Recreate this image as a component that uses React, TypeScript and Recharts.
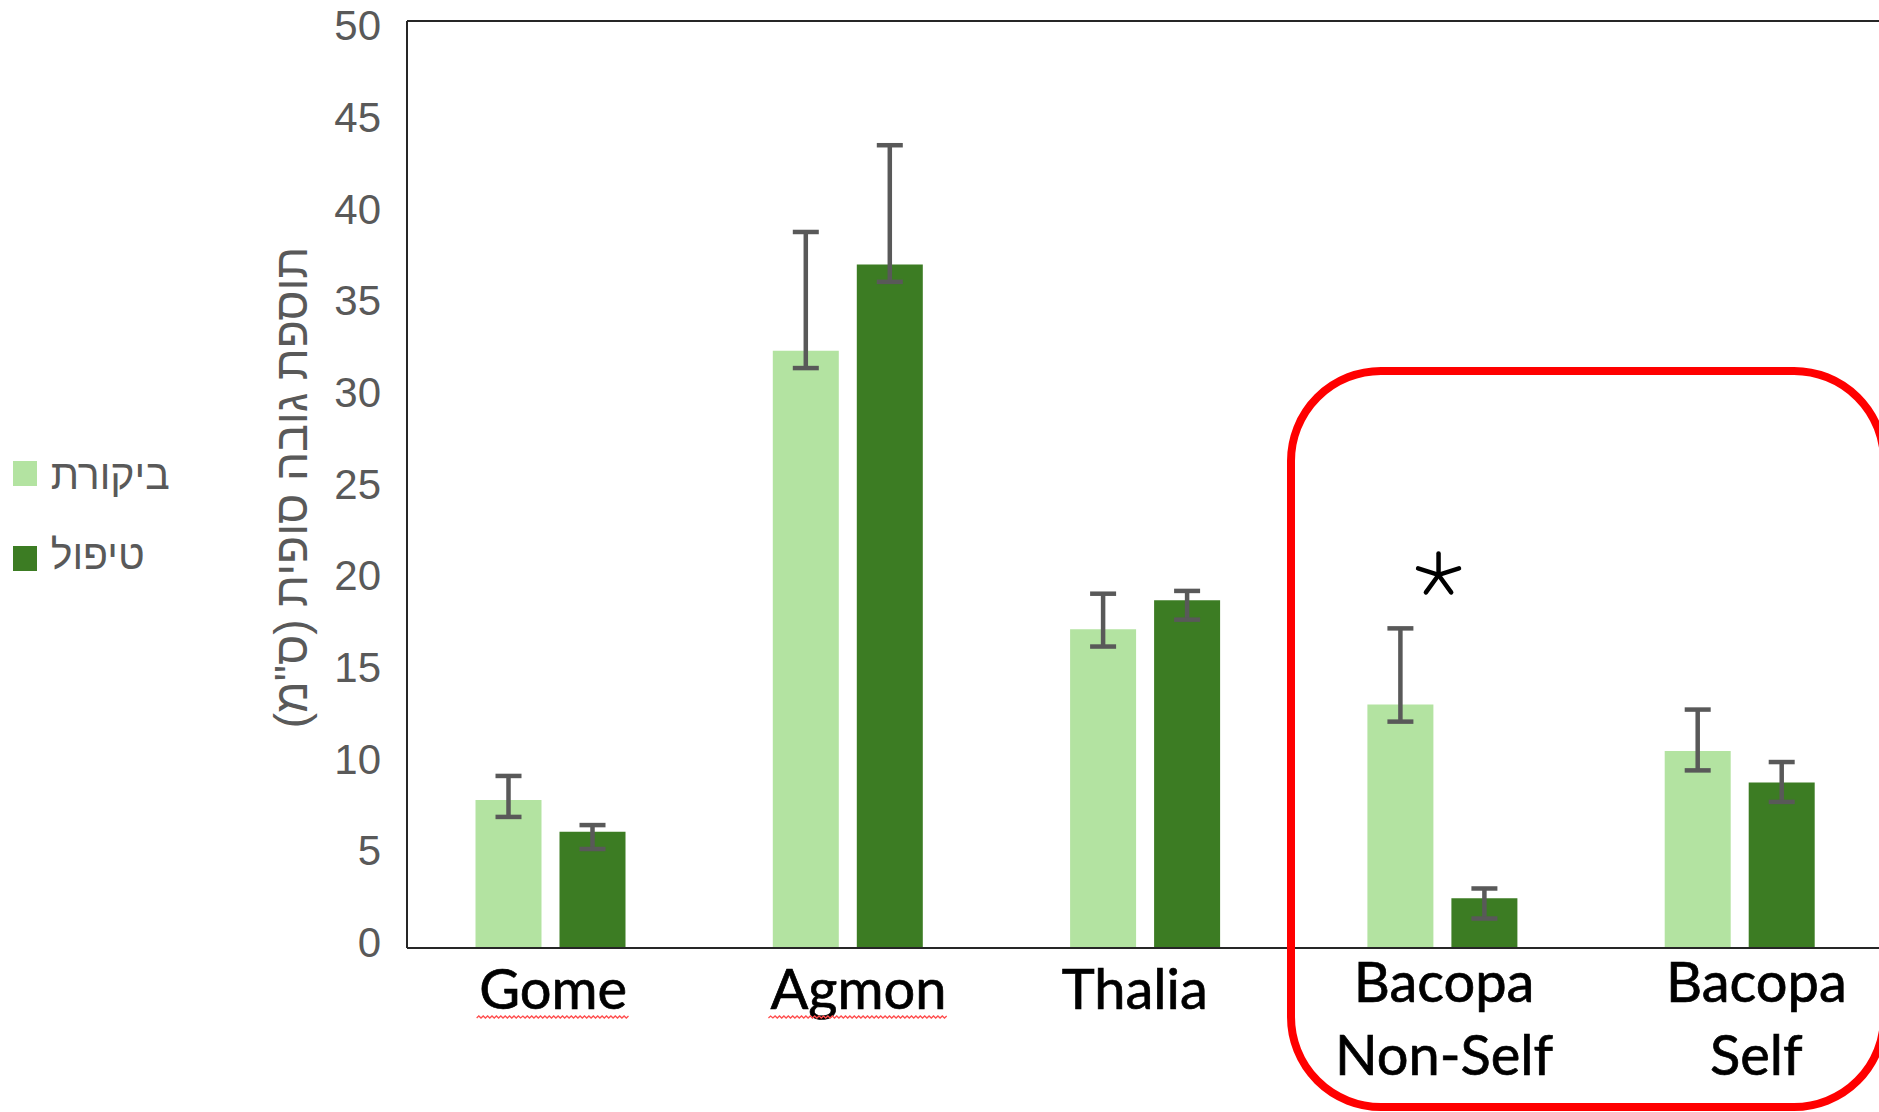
import React from "react";
import { BarChart, Bar, XAxis, YAxis, ErrorBar, ReferenceLine, ReferenceDot, Label } from "recharts";

const categories = ["Gome", "Agmon", "Thalia", "Bacopa\nNon-Self", "Bacopa\nSelf"];
const seriesNames = ["ביקורת", "טיפול"];
const seriesColors = ["#B3E3A1", "#3C7C23"];
const controlValues = [7.98, 32.22, 17.19, 13.14, 10.63];
const treatmentValues = [6.27, 36.86, 18.76, 2.69, 8.93];
const controlErrors = [[0.91, 1.3], [0.94, 6.4], [0.93, 1.92], [0.93, 4.1], [1.05, 2.23]];
const treatmentErrors = [[0.93, 0.36], [0.93, 6.44], [1.05, 0.5], [1.1, 0.52], [1.05, 1.1]];
const significance = ["", "", "", "*", ""];
const yTicks = [0, 5, 10, 15, 20, 25, 30, 35, 40, 45, 50];
const yAxisTitle = 'תוספת גובה סופית (ס"מ)';

// label styling (hand-placed text boxes in the original)
const labelNudge: Record<string, number> = { Gome: 3, Agmon: 11, Thalia: -10, "Bacopa\nNon-Self": 2, "Bacopa\nSelf": 17 };
const squiggleWidth: Record<string, number> = { Gome: 153, Agmon: 180 };

const data = categories.map((c, i) => ({
  category: c,
  control: controlValues[i],
  treatment: treatmentValues[i],
  controlErr: controlErrors[i],
  treatmentErr: treatmentErrors[i],
}));

const squigglePath = (x0: number, y0: number, w: number) => {
  let d = `M${x0},${y0}`;
  const step = 2.2;
  let up = true;
  for (let x = x0 + step; x <= x0 + w; x += step) {
    d += ` L${x.toFixed(1)},${(up ? y0 - 2 : y0).toFixed(1)}`;
    up = !up;
  }
  return d;
};

const XTick = (props: any) => {
  const { x, y, payload } = props;
  const key = String(payload.value);
  const lines = key.split("\n");
  const first = lines.length > 1 ? 54 : 61;
  const cx = x + (labelNudge[key] || 0);
  const sw = squiggleWidth[key];
  return (
    <g>
      <text
        x={cx}
        y={y}
        textAnchor="middle"
        fontFamily="Lato, 'Open Sans', sans-serif"
        fontSize={56}
        fill="#000"
        stroke="#000"
        strokeWidth={0.7}
      >
        {lines.map((l, i) => (
          <tspan key={i} x={cx} dy={i === 0 ? first : 73}>
            {l}
          </tspan>
        ))}
      </text>
      {sw ? <path d={squigglePath(cx - sw / 2, y + first + 9, sw)} fill="none" stroke="#FF4D4D" strokeWidth={1.3} /> : null}
    </g>
  );
};

const YTick = (props: any) => {
  const { x, y, payload } = props;
  const frac = Number(payload.value) / 50;
  const shift = -6 + 10.5 * frac;
  return (
    <text
      x={x}
      y={y + shift}
      dy="0.355em"
      textAnchor="end"
      fontFamily="'Liberation Sans', Arial, sans-serif"
      fontSize={42}
      fill="#595959"
    >
      {payload.value}
    </text>
  );
};

const YTitle = (props: any) => {
  const vb = props.viewBox || { x: 0, y: 21, width: 407, height: 927 };
  const cy = vb.y + vb.height / 2 + 3;
  return (
    <text
      transform={`translate(306.7, ${cy}) rotate(-90)`}
      x={0}
      y={0}
      textAnchor="middle"
      direction="rtl"
      fontFamily="'Liberation Sans', Arial, sans-serif"
      fontSize={46}
      fill="#595959"
    >
      {yAxisTitle}
    </text>
  );
};

const Asterisk = (props: any) => {
  const { cx, cy } = props;
  const ax = cx - 3.5;
  const ay = cy - 53.4;
  const r = 21.5;
  const angles = [-90, -18, 54, 126, 198];
  return (
    <g>
      {angles.map((a) => {
        const rad = (a * Math.PI) / 180;
        return (
          <line
            key={a}
            x1={ax}
            y1={ay}
            x2={ax + r * Math.cos(rad)}
            y2={ay + r * Math.sin(rad)}
            stroke="#000"
            strokeWidth={4.5}
            strokeLinecap="round"
          />
        );
      })}
    </g>
  );
};

const legendText: React.CSSProperties = {
  position: "absolute",
  left: 50.7,
  fontFamily: "'Liberation Sans', Arial, sans-serif",
  fontSize: 41,
  lineHeight: "41px",
  color: "#595959",
  direction: "rtl",
  whiteSpace: "nowrap",
};

export default function App() {
  return (
    <div style={{ position: "fixed", left: 0, top: 0, width: 1879, height: 1112, overflow: "hidden", background: "#fff" }}>
      <BarChart
        width={1900}
        height={1112}
        data={data}
        margin={{ top: 21, right: 12, left: 0, bottom: 14 }}
        barGap={18}
        barSize={66}
      >
        <XAxis
          dataKey="category"
          height={150}
          axisLine={{ stroke: "#262626", strokeWidth: 2 }}
          tickLine={false}
          tickSize={0}
          tickMargin={0}
          interval={0}
          tick={<XTick />}
          padding={{ left: -5.5, right: 0 }}
        />
        <YAxis
          width={407}
          domain={[0, 50]}
          ticks={yTicks}
          interval={0}
          axisLine={{ stroke: "#262626", strokeWidth: 2 }}
          tickLine={false}
          tickSize={0}
          tickMargin={26}
          tick={<YTick />}
        >
          <Label content={<YTitle />} />
        </YAxis>
        <ReferenceLine y={50} stroke="#262626" strokeWidth={2} />
        <Bar dataKey="control" name={seriesNames[0]} fill={seriesColors[0]} isAnimationActive={false}>
          <ErrorBar dataKey="controlErr" width={13} stroke="#595959" strokeWidth={4.5} direction="y" isAnimationActive={false} />
        </Bar>
        <Bar dataKey="treatment" name={seriesNames[1]} fill={seriesColors[1]} isAnimationActive={false}>
          <ErrorBar dataKey="treatmentErr" width={13} stroke="#595959" strokeWidth={4.5} direction="y" isAnimationActive={false} />
        </Bar>
        {categories.map((c, i) =>
          significance[i] ? (
            <ReferenceDot
              key={c}
              x={c}
              y={controlValues[i] + controlErrors[i][1]}
              r={0}
              ifOverflow="visible"
              shape={<Asterisk />}
            />
          ) : null
        )}
      </BarChart>

      {/* legend */}
      <div style={{ position: "absolute", left: 12.7, top: 460.5, width: 24, height: 25, background: seriesColors[0] }} />
      <div style={{ ...legendText, top: 455 }}>{seriesNames[0]}</div>
      <div style={{ position: "absolute", left: 12.7, top: 546, width: 24, height: 25, background: seriesColors[1] }} />
      <div style={{ ...legendText, top: 535 }}>{seriesNames[1]}</div>

      {/* highlight box */}
      <div
        style={{
          position: "absolute",
          left: 1287,
          top: 367,
          width: 601,
          height: 744,
          boxSizing: "border-box",
          border: "8px solid #FF0000",
          borderRadius: 94,
          pointerEvents: "none",
        }}
      />
    </div>
  );
}
